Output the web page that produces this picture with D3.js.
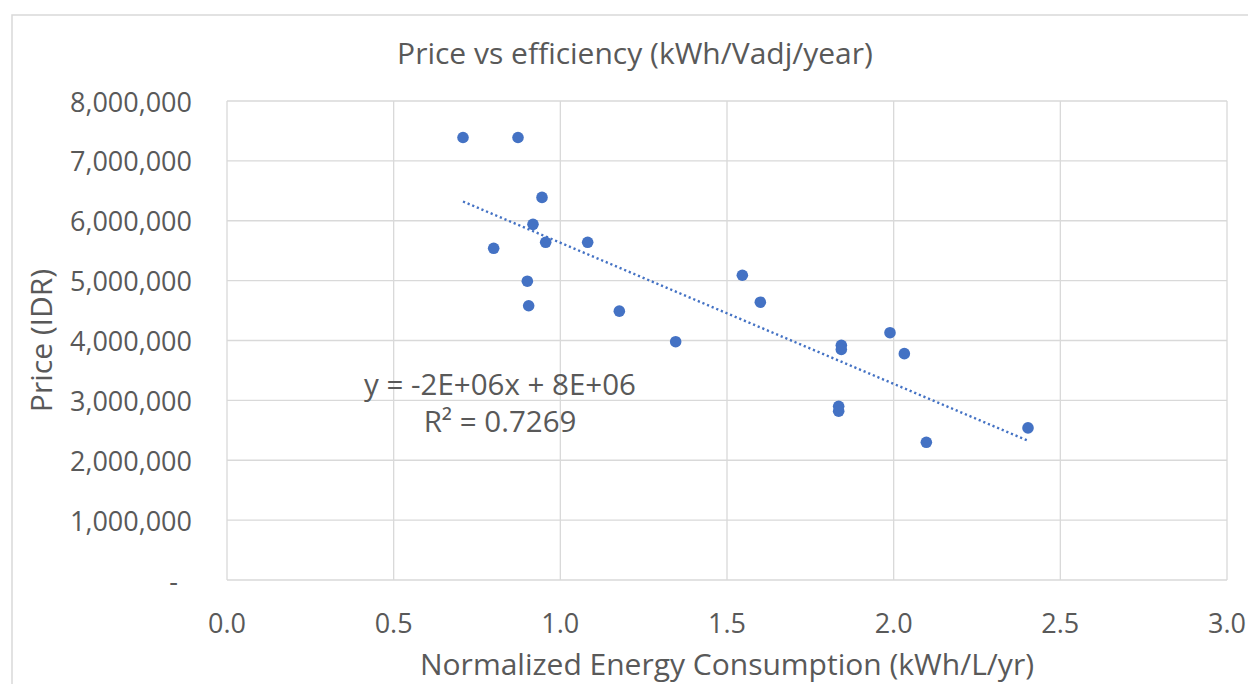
<!DOCTYPE html>
<html><head><meta charset="utf-8">
<script src="https://cdn.jsdelivr.net/npm/d3@7"></script>
<style>
html,body{margin:0;padding:0;background:#fff;}
svg text{font-family:"Open Sans",sans-serif;fill:#595959;}
</style></head>
<body>
<svg id="chart" width="1248" height="684"></svg>
<script>
const W=1248,H=684;
// data
const consumption=[0.708,0.873,0.945,0.918,0.956,1.082,0.800,0.901,0.905,1.177,1.346,1.546,1.600,1.843,1.843,1.989,2.032,1.835,1.835,2.098,2.403];
const price=[7390000,7390000,6390000,5940000,5640000,5640000,5540000,4990000,4580000,4490000,3980000,5090000,4640000,3920000,3850000,4130000,3780000,2900000,2820000,2300000,2540000];
const xTicks=[0,0.5,1,1.5,2,2.5,3];
const yTicks=[0,1e6,2e6,3e6,4e6,5e6,6e6,7e6,8e6];
const title='Price vs efficiency (kWh/Vadj/year)';
const xTitle='Normalized Energy Consumption (kWh/L/yr)';
const yTitle='Price (IDR)';
const eqText='y = -2E+06x + 8E+06';
const r2Text='R² = 0.7269';

const m={l:227,t:101,r:1227,b:580};
const svg=d3.select('#chart');
const x=d3.scaleLinear().domain([0,3]).range([m.l,m.r]);
const y=d3.scaleLinear().domain([0,8e6]).range([m.b,m.t]);

// chart border
svg.append('rect').attr('x',12).attr('y',15).attr('width',1260).attr('height',700)
  .attr('fill','none').attr('stroke','#d9d9d9').attr('stroke-width',1.5);

svg.append('text').attr('x',635).attr('y',52).attr('text-anchor','middle')
  .attr('dominant-baseline','central').style('font-size','30px').text(title);

const gGrid=svg.append('g');
gGrid.selectAll('line.h').data(yTicks).join('line').attr('class','h')
  .attr('x1',m.l).attr('x2',m.r).attr('y1',d=>y(d)).attr('y2',d=>y(d))
  .attr('stroke','#d9d9d9').attr('stroke-width',1.3);
gGrid.selectAll('line.v').data(xTicks).join('line').attr('class','v')
  .attr('y1',m.t).attr('y2',m.b).attr('x1',d=>x(d)).attr('x2',d=>x(d))
  .attr('stroke','#d9d9d9').attr('stroke-width',1.3);

const fmt=d3.format(',');
svg.append('g').selectAll('text').data(yTicks).join('text')
  .attr('x',d=>d===0?178:192).attr('y',d=>y(d)).attr('text-anchor','end')
  .attr('dominant-baseline','central').style('font-size','27px')
  .text(d=>d===0?'-':fmt(d));
svg.append('g').selectAll('text').data(xTicks).join('text')
  .attr('x',d=>x(d)).attr('y',622).attr('text-anchor','middle')
  .attr('dominant-baseline','central').style('font-size','27px')
  .text(d=>d3.format('.1f')(d));

svg.append('text').attr('x',(m.l+m.r)/2).attr('y',663).attr('text-anchor','middle')
  .attr('dominant-baseline','central').style('font-size','30px').text(xTitle);
svg.append('text').attr('transform',`translate(40,${(m.t+m.b)/2}) rotate(-90)`)
  .attr('text-anchor','middle').attr('dominant-baseline','central')
  .style('font-size','30px').text(yTitle);

// least squares trendline
const n=consumption.length;
const mx=d3.mean(consumption), my=d3.mean(price);
let sxy=0,sxx=0;
for(let i=0;i<n;i++){sxy+=(consumption[i]-mx)*(price[i]-my);sxx+=(consumption[i]-mx)**2;}
const slope=sxy/sxx, icpt=my-slope*mx;
const [x0,x1]=d3.extent(consumption);
svg.append('line').attr('x1',x(x0)).attr('y1',y(icpt+slope*x0))
  .attr('x2',x(x1)).attr('y2',y(icpt+slope*x1))
  .attr('stroke','#4472c4').attr('stroke-width',2.4)
  .attr('stroke-dasharray','2.2 2.8');

svg.append('g').selectAll('circle').data(consumption.map((c,i)=>[c,price[i]])).join('circle')
  .attr('cx',d=>x(d[0])).attr('cy',d=>y(d[1])).attr('r',5.8).attr('fill','#4472c4');

svg.append('text').attr('x',500).attr('y',383).attr('text-anchor','middle')
  .attr('dominant-baseline','central').style('font-size','29.5px').text(eqText);
svg.append('text').attr('x',500).attr('y',420).attr('text-anchor','middle')
  .attr('dominant-baseline','central').style('font-size','29.5px').text(r2Text);
</script>
</body></html>
